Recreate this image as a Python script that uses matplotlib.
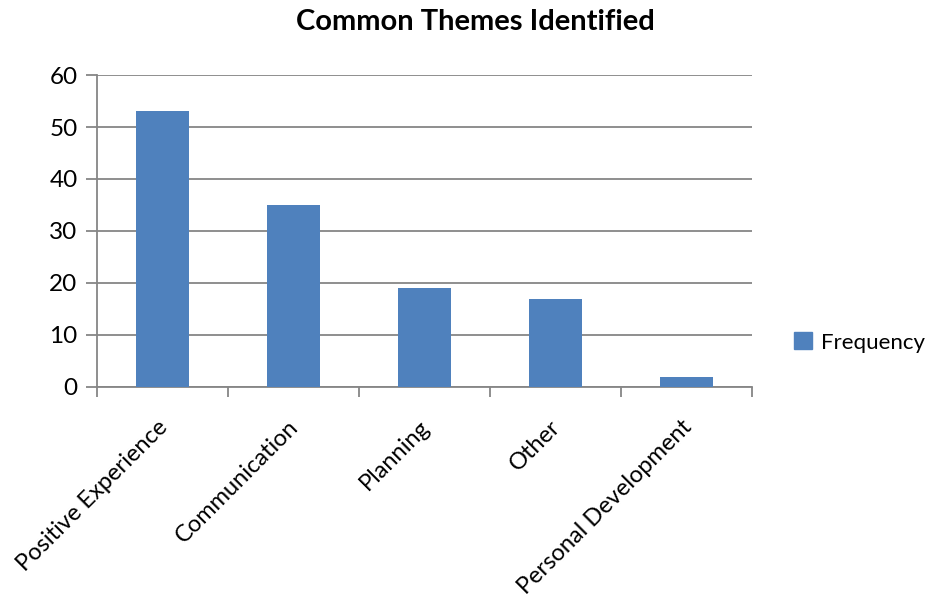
import matplotlib
matplotlib.use("Agg")
import matplotlib.pyplot as plt
from matplotlib.patches import Patch

categories = ["Positive Experience", "Communication", "Planning", "Other", "Personal Development"]
frequency = [53, 35, 19, 17, 2]
yticks = [0, 10, 20, 30, 40, 50, 60]

plt.rcParams['font.family'] = ['Lato', 'DejaVu Sans']
fig = plt.figure(figsize=(9.31, 6.01), dpi=100)
ax = fig.add_axes([0.1042, 0.3561, 0.7035, 0.5191])

color = "#4F81BD"
grid = "#868686"
x = list(range(len(categories)))
ax.bar(x, frequency, width=0.4, color=color, zorder=3, label="Frequency")
ax.set_xlim(-0.5, len(categories) - 0.5)
ax.set_ylim(0, 60)
ax.set_yticks(yticks)
ax.yaxis.grid(True, color=grid, linewidth=1.3, zorder=0)
for s in ["top", "right"]:
    ax.spines[s].set_visible(False)
for s in ["left", "bottom"]:
    ax.spines[s].set_color(grid)
    ax.spines[s].set_linewidth(1.3)
ax.tick_params(axis="y", colors=grid, labelcolor="black", labelsize=17.5, length=8, width=1.3, pad=6)
ax.set_xticks([i - 0.5 for i in range(len(categories) + 1)])
ax.set_xticklabels([])
ax.tick_params(axis="x", colors=grid, length=7, width=1.3)
for i, c in enumerate(categories):
    ax.annotate(c, xy=(i, 0), xycoords=("data", "axes fraction"), xytext=(-4, -21),
                textcoords="offset points", rotation=45, ha="right", va="top",
                rotation_mode="anchor", fontsize=17)

fig.text(0.511, 0.963, "Common Themes Identified", fontsize=21, fontweight="bold",
         ha="center", va="center")
fig.legend(handles=[Patch(color=color, label="Frequency")], loc="center left",
           bbox_to_anchor=(0.841, 0.43), frameon=False, fontsize=16, borderpad=0,
           handlelength=0.8, handleheight=0.8, handletextpad=0.4)
fig.savefig("out.png", dpi=100)
